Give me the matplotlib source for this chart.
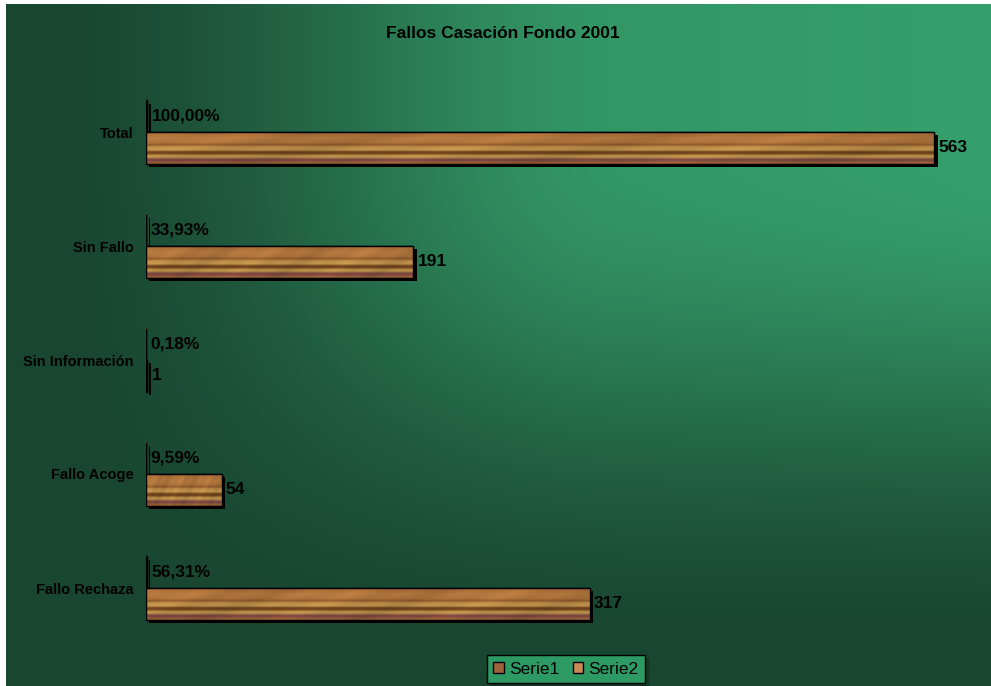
import numpy as np
import matplotlib
matplotlib.use('Agg')
import matplotlib.pyplot as plt
import matplotlib.patheffects as pe
from matplotlib.patches import Patch

plt.rcParams['font.family'] = ['Liberation Sans', 'DejaVu Sans']

# data (top to bottom in the picture)
categorias = ['Total', 'Sin Fallo', 'Sin Información', 'Fallo Acoge', 'Fallo Rechaza']
serie1 = [563, 191, 1, 54, 317]
serie2 = [1.0, 0.3393, 0.0018, 0.0959, 0.5631]
etiquetas2 = ['100,00%', '33,93%', '0,18%', '9,59%', '56,31%']

W, H = 991, 686
fig = plt.figure(figsize=(W / 100, H / 100), dpi=100)

# background gradient: bright towards top right, dark at left and bottom
bg = fig.add_axes([6 / W, 0, (W - 6) / W, (H - 4) / H])
gx, gy = np.meshgrid(np.linspace(0, 1, 400), np.linspace(0, 1, 300))


def smooth(t):
    t = np.clip(t, 0, 1)
    return t * t * (3 - 2 * t)


fx = smooth((gx - 0.02) / 0.6)
fy = smooth(1 - (gy - 0.22) / 0.75)
b = fx * fy * (0.72 + 0.28 * gx)
bright = np.array([54, 160, 108]) / 255
dark = np.array([25, 70, 49]) / 255
img = dark[None, None, :] + b[..., None] * (bright - dark)[None, None, :]
bg.imshow(img, aspect='auto', extent=[0, 1, 0, 1], origin='upper', interpolation='bilinear')
bg.axis('off')

# wood texture: horizontal grain bands
th, tw = 80, 600
yy, xx = np.meshgrid(np.linspace(0, 1, th), np.linspace(0, 1, tw), indexing='ij')
stops = [0.0, 0.08, 0.2, 0.33, 0.4, 0.46, 0.56, 0.62, 0.68, 0.74, 0.8, 0.85, 0.9, 0.95, 1.0]
r = [160, 170, 178, 170, 140, 185, 190, 105, 115, 188, 178, 125, 122, 150, 140]
g = [100, 110, 120, 113, 85, 138, 146, 62, 68, 148, 136, 70, 66, 96, 90]
bl = [52, 58, 62, 58, 42, 70, 76, 26, 30, 74, 70, 64, 68, 52, 50]
wood = np.stack([np.interp(yy, stops, c) for c in (r, g, bl)], axis=-1) / 255
wood = wood * (1 + 0.05 * np.sin(xx * 17 + yy * 3) + 0.03 * np.sin(xx * 53 + yy * 11))[..., None]
wood = np.clip(wood, 0, 1)

ax = fig.add_axes([146 / W, 1 - 645 / H, (958 - 146) / W, (645 - 75) / H])
ax.patch.set_alpha(0)
pos = np.arange(len(categorias))[::-1]
h = 0.28

b1 = ax.barh(pos - h / 2, serie1, height=h, color='#a86a3c', edgecolor='black', linewidth=1, zorder=3)
b2 = ax.barh(pos + h / 2, serie2, height=h, color='#a86a3c', edgecolor='black', linewidth=1, zorder=3)

for bar in list(b1) + list(b2):
    bar.set_path_effects([pe.SimplePatchShadow(offset=(2.5, -2.5), shadow_rgbFace='black', alpha=1), pe.Normal()])
    x0, y0 = bar.get_x(), bar.get_y()
    im = ax.imshow(wood, extent=[x0, x0 + bar.get_width(), y0, y0 + bar.get_height()],
                   aspect='auto', zorder=4, interpolation='bilinear')
    im.set_clip_path(bar)
    ax.add_patch(plt.Rectangle((x0, y0), bar.get_width(), bar.get_height(), fill=False,
                               edgecolor='black', linewidth=1, zorder=5))

for p, v in zip(pos, serie1):
    ax.text(v + 3, p - h / 2, str(v), va='center', ha='left', fontsize=12.5, fontweight='bold', zorder=6)
for p, v, t in zip(pos, serie2, etiquetas2):
    ax.text(v + 3, p + h / 2, t, va='center', ha='left', fontsize=12.5, fontweight='bold', zorder=6)

ax.set_xlim(0, 580)
ax.set_ylim(-0.5, len(categorias) - 0.5)
ax.set_yticks(pos)
ax.set_yticklabels(categorias, fontsize=10.5, fontweight='bold')
ax.tick_params(axis='y', length=0, pad=9)
ax.set_xticks([])
for s in ax.spines.values():
    s.set_visible(False)

fig.text(503 / W, 1 - 33 / H, 'Fallos Casación Fondo 2001', ha='center', va='center',
         fontsize=12.5, fontweight='bold')

handles = [Patch(facecolor='#a0623a', edgecolor='black', label='Serie1'),
           Patch(facecolor='#c98a55', edgecolor='black', label='Serie2')]
leg = fig.legend(handles=handles, loc='center', bbox_to_anchor=(566 / W, 1 - 669 / H), ncol=2,
                 fontsize=12.5, frameon=True, fancybox=False, shadow=True, facecolor='#2e9a63',
                 edgecolor='black', handlelength=0.6, handleheight=0.6, handletextpad=0.3,
                 columnspacing=0.8, borderpad=0.35)
leg.get_frame().set_linewidth(1)

fig.savefig('out.png', dpi=100)
